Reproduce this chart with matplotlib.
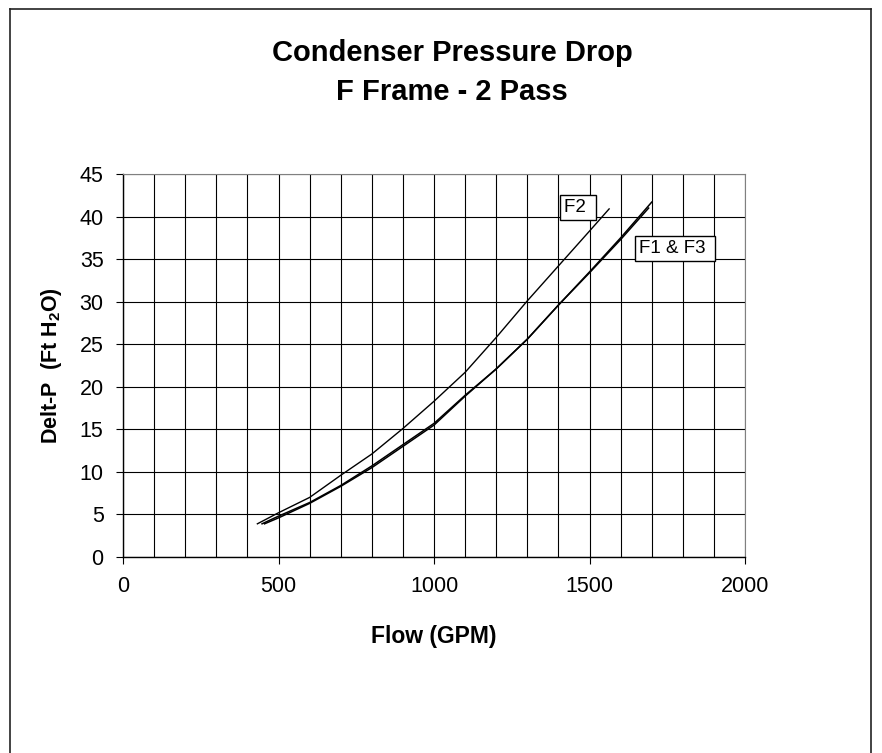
import numpy as np
import matplotlib
matplotlib.use('Agg')
import matplotlib.pyplot as plt
from matplotlib.ticker import MultipleLocator
from matplotlib.lines import Line2D

plt.rcParams['font.family'] = ['Liberation Sans', 'DejaVu Sans']
plt.rcParams['mathtext.fontset'] = 'custom'
plt.rcParams['mathtext.rm'] = 'Liberation Sans'
plt.rcParams['mathtext.bf'] = 'Liberation Sans:bold'

# values
f2_flow = [432, 500, 600, 700, 800, 900, 1000, 1100, 1200, 1300, 1400, 1500, 1563]
f2_dp = [3.9, 5.2, 7.0, 9.6, 12.1, 15.1, 18.3, 21.7, 25.8, 30.1, 34.2, 38.3, 40.9]

f1_flow = [447, 500, 600, 700, 800, 900, 1000, 1100, 1200, 1300, 1400, 1500, 1600, 1700]
f1_dp = [3.9, 4.8, 6.4, 8.4, 10.7, 13.2, 15.7, 19.0, 22.1, 25.6, 29.6, 33.5, 37.5, 41.7]

f3_flow = [455, 500, 600, 700, 800, 900, 1000, 1100, 1200, 1300, 1400, 1500, 1600, 1690]
f3_dp = [3.9, 4.6, 6.3, 8.3, 10.5, 13.0, 15.5, 18.9, 22.1, 25.6, 29.6, 33.4, 37.3, 41.0]

fig = plt.figure(figsize=(8.82, 7.53), dpi=100)
ax = fig.add_axes([0.1395, 0.2603, 0.7052, 0.5086])

ax.plot(f2_flow, f2_dp, color='black', lw=1.0)
ax.plot(f1_flow, f1_dp, color='black', lw=1.1)
ax.plot(f3_flow, f3_dp, color='black', lw=1.1)

ax.set_xlim(0, 2000)
ax.set_ylim(0, 45)
ax.xaxis.set_major_locator(MultipleLocator(500))
ax.xaxis.set_minor_locator(MultipleLocator(100))
ax.yaxis.set_major_locator(MultipleLocator(5))
ax.grid(True, which='both', color='black', lw=0.8)
ax.tick_params(which='major', direction='out', length=5, width=0.8, labelsize=15.5, pad=9)
ax.tick_params(which='minor', length=0)
ax.tick_params(top=False, right=False)

for side in ['top', 'right']:
    ax.spines[side].set_color('#808080')
for side in ['left', 'bottom']:
    ax.spines[side].set_color('black')
    ax.spines[side].set_linewidth(1.0)

ax.set_xlabel('Flow (GPM)', fontsize=16.5, fontweight='bold', labelpad=20)
ax.set_ylabel(r'Delt-P  (Ft H$_{\mathbf{2}}$O)', fontsize=15.5, fontweight='bold', labelpad=11)

ax.text(1463, 41.1, 'F2 ', fontsize=13.5, ha='center', va='center',
        bbox=dict(boxstyle='square,pad=0.22', fc='white', ec='black', lw=1.0))
ax.text(1775, 36.25, 'F1 & F3 ', fontsize=13.5, ha='center', va='center',
        bbox=dict(boxstyle='square,pad=0.22', fc='white', ec='black', lw=1.0))

fig.text(0.5125, 0.930, 'Condenser Pressure Drop', fontsize=21, fontweight='bold',
         ha='center', va='center')
fig.text(0.5125, 0.878, 'F Frame - 2 Pass', fontsize=21, fontweight='bold',
         ha='center', va='center')

# outer frame (left, top, right)
W, H = 882, 753
fig.add_artist(Line2D([9.5 / W, 9.5 / W], [0, 1 - 8.5 / H], transform=fig.transFigure, color='#222222', lw=1.2))
fig.add_artist(Line2D([9.5 / W, 871 / W], [1 - 8.5 / H, 1 - 8.5 / H], transform=fig.transFigure, color='#222222', lw=1.2))
fig.add_artist(Line2D([871 / W, 871 / W], [0, 1 - 8.5 / H], transform=fig.transFigure, color='#222222', lw=1.2))

fig.savefig('out.png', dpi=100)
